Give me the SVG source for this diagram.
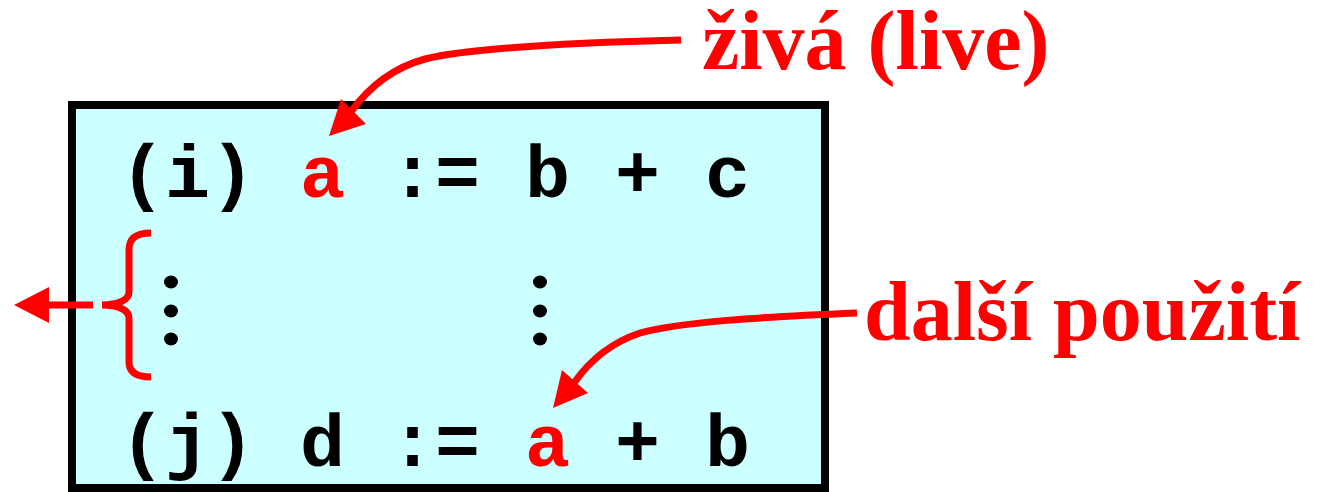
<svg xmlns="http://www.w3.org/2000/svg" width="1318" height="492" viewBox="0 0 1318 492">
<style>
.code{font-family:"Liberation Mono","Courier New",monospace;font-weight:bold;font-size:75px;fill:#000}
.red{fill:#ff0000}
.lbl{font-family:"Liberation Serif","Times New Roman",serif;font-weight:bold;font-size:84px;fill:#ff0000}
.conn{fill:none;stroke:#ff0000;stroke-width:7}
.dot{fill:#000}
</style>
<rect width="1318" height="492" fill="#ffffff"/>
<g id="box">
<rect x="72" y="105" width="753" height="383" fill="#ccffff" stroke="#000" stroke-width="8"/>
<text class="code" x="120" y="197" xml:space="preserve">(i) <tspan class="red">a</tspan> := b + c</text>
<text class="code" x="120" y="466" xml:space="preserve">(j) d := <tspan class="red">a</tspan> + b</text>
<ellipse class="dot" cx="171" cy="282" rx="7" ry="6.5"/>
<ellipse class="dot" cx="171" cy="311" rx="7" ry="6.5"/>
<ellipse class="dot" cx="171" cy="339" rx="7" ry="6.5"/>
<ellipse class="dot" cx="540" cy="282" rx="7" ry="6.5"/>
<ellipse class="dot" cx="540" cy="311" rx="7" ry="6.5"/>
<ellipse class="dot" cx="540" cy="339" rx="7" ry="6.5"/>
</g>
<g id="label-live">
<text class="lbl" x="702" y="69">živá (live)</text>
</g>
<g id="label-next">
<text class="lbl" x="864" y="340">další použití</text>
</g>
<g id="connectors">
<path class="conn" d="M151,233 C138,233 129,237 129,250 L129,292 C129,300 118,305 102,305 C118,305 129,310 129,318 L129,362 C129,373 138,377 151,377"/>
<path class="conn" d="M93,305 L45,305"/>
<polygon fill="#ff0000" points="14,305 49,287 49,323"/>
<path class="conn" d="M681,40 C560,43 470,48 425,59 C392,68 368,88 350,113"/>
<polygon fill="#ff0000" points="329,136 341,99 366,124"/>
<path class="conn" d="M857,313 C760,317 680,322 640,333 C610,343 590,360 574,383"/>
<polygon fill="#ff0000" points="553,408 562,370 588,393"/>
</g>
</svg>
